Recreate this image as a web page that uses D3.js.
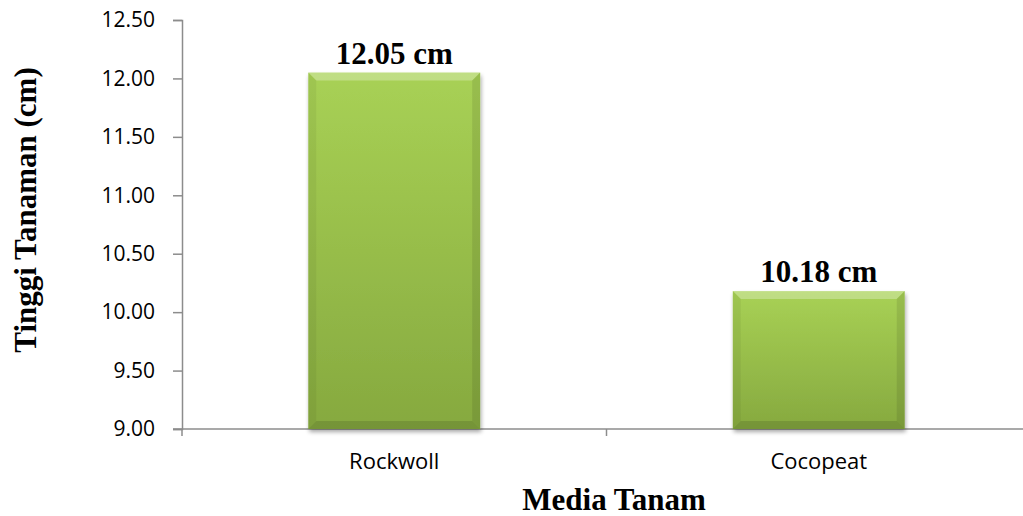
<!DOCTYPE html>
<html>
<head>
<meta charset="utf-8">
<script src="https://cdn.jsdelivr.net/npm/d3@7"></script>
<style>
  body { margin: 0; background: #fff; }
  svg { display: block; }
</style>
</head>
<body>
<svg id="chart" width="1023" height="516"></svg>
<script>
const categories = ['Rockwoll', 'Cocopeat'];
const values = [12.05, 10.18];
const valueLabels = ['12.05 cm', '10.18 cm'];
const yTicks = [9.0, 9.5, 10.0, 10.5, 11.0, 11.5, 12.0, 12.5];

const svg = d3.select('#chart');
const plotLeft = 182, plotRight = 1031, plotTop = 20, plotBottom = 429;
const sansFont = '"Open Sans", Lato, sans-serif';
const serifFont = '"Liberation Serif", "Times New Roman", serif';

const x = d3.scaleBand()
  .domain(categories)
  .range([plotLeft, plotRight])
  .paddingInner(0.595)
  .paddingOuter(0.2975);

const y = d3.scaleLinear()
  .domain([9, 12.5])
  .range([plotBottom, plotTop]);

const defs = svg.append('defs');
const grad = defs.append('linearGradient')
  .attr('id', 'barFill')
  .attr('x1', 0).attr('y1', 0).attr('x2', 0).attr('y2', 1);
grad.append('stop').attr('offset', '0%').attr('stop-color', '#a8d155');
grad.append('stop').attr('offset', '100%').attr('stop-color', '#86a93f');

const shadow = defs.append('filter').attr('id', 'shadow')
  .attr('x', '-10%').attr('y', '-10%').attr('width', '120%').attr('height', '120%');
shadow.append('feGaussianBlur').attr('in', 'SourceAlpha').attr('stdDeviation', 2);
shadow.append('feOffset').attr('dx', 1).attr('dy', 3).attr('result', 'off');
shadow.append('feComponentTransfer').append('feFuncA').attr('type', 'linear').attr('slope', 0.35);
const merge = shadow.append('feMerge');
merge.append('feMergeNode');
merge.append('feMergeNode').attr('in', 'SourceGraphic');

// axes
const yAxis = svg.append('g')
  .attr('transform', `translate(${plotLeft},0)`)
  .call(d3.axisLeft(y).tickValues(yTicks).tickFormat(d3.format('.2f')).tickSizeOuter(0).tickSize(9).tickPadding(18));
yAxis.select('.domain').attr('stroke', '#8c8c8c').attr('stroke-width', 1.5);
yAxis.selectAll('.tick line').attr('stroke', '#8c8c8c').attr('stroke-width', 1.5);
yAxis.selectAll('.tick text')
  .attr('fill', '#000')
  .style('font-family', sansFont)
  .style('font-size', '21px');

const xAxisG = svg.append('g');
xAxisG.append('line')
  .attr('x1', plotLeft - 9).attr('x2', plotRight)
  .attr('y1', plotBottom).attr('y2', plotBottom)
  .attr('stroke', '#8c8c8c').attr('stroke-width', 1.5);
xAxisG.selectAll('line.tick')
  .data([plotLeft, x('Cocopeat') - x.step() * x.paddingInner() / 2, plotRight])
  .enter().append('line')
  .attr('class', 'tick')
  .attr('x1', d => d).attr('x2', d => d)
  .attr('y1', plotBottom).attr('y2', plotBottom + 7)
  .attr('stroke', '#8c8c8c').attr('stroke-width', 1.5);

xAxisG.selectAll('text')
  .data(categories)
  .enter().append('text')
  .attr('x', d => x(d) + x.bandwidth() / 2)
  .attr('y', 469)
  .attr('text-anchor', 'middle')
  .style('font-family', sansFont)
  .style('font-size', '22px')
  .text(d => d);

// bars
const bw = 8;
const bars = svg.selectAll('g.bar')
  .data(categories.map((c, i) => ({ c, v: values[i], label: valueLabels[i] })))
  .enter().append('g')
  .attr('class', 'bar');

bars.append('rect')
  .attr('x', d => x(d.c))
  .attr('y', d => y(d.v))
  .attr('width', x.bandwidth())
  .attr('height', d => y(9) - y(d.v))
  .attr('fill', 'url(#barFill)')
  .attr('filter', 'url(#shadow)');

function bevel(d, side) {
  const x0 = x(d.c), x1 = x0 + x.bandwidth();
  const y0 = y(d.v), y1 = y(9);
  if (side === 'top') return [[x0, y0], [x1, y0], [x1 - bw, y0 + bw], [x0 + bw, y0 + bw]];
  if (side === 'left') return [[x0, y0], [x0 + bw, y0 + bw], [x0 + bw, y1 - bw], [x0, y1]];
  if (side === 'right') return [[x1, y0], [x1, y1], [x1 - bw, y1 - bw], [x1 - bw, y0 + bw]];
  return [[x0, y1], [x0 + bw, y1 - bw], [x1 - bw, y1 - bw], [x1, y1]];
}
const bevelFill = { top: 'rgba(255,255,255,0.28)', left: 'rgba(0,0,0,0.05)', right: 'rgba(0,0,0,0.09)', bottom: 'rgba(0,0,0,0.12)' };
['top', 'left', 'right', 'bottom'].forEach(side => {
  bars.append('polygon')
    .attr('points', d => bevel(d, side).map(p => p.join(',')).join(' '))
    .attr('fill', bevelFill[side]);
});

bars.append('text')
  .attr('x', d => x(d.c) + x.bandwidth() / 2)
  .attr('y', d => y(d.v) - 9)
  .attr('text-anchor', 'middle')
  .style('font-family', serifFont)
  .style('font-weight', 'bold')
  .style('font-size', '31px')
  .text(d => d.label);

// axis titles
svg.append('text')
  .attr('x', 614)
  .attr('y', 510)
  .attr('text-anchor', 'middle')
  .style('font-family', serifFont)
  .style('font-weight', 'bold')
  .style('font-size', '31px')
  .text('Media Tanam');

svg.append('text')
  .attr('transform', 'translate(36,210) rotate(-90)')
  .attr('text-anchor', 'middle')
  .style('font-family', serifFont)
  .style('font-weight', 'bold')
  .style('font-size', '31px')
  .text('Tinggi Tanaman (cm)');
</script>
</body>
</html>
